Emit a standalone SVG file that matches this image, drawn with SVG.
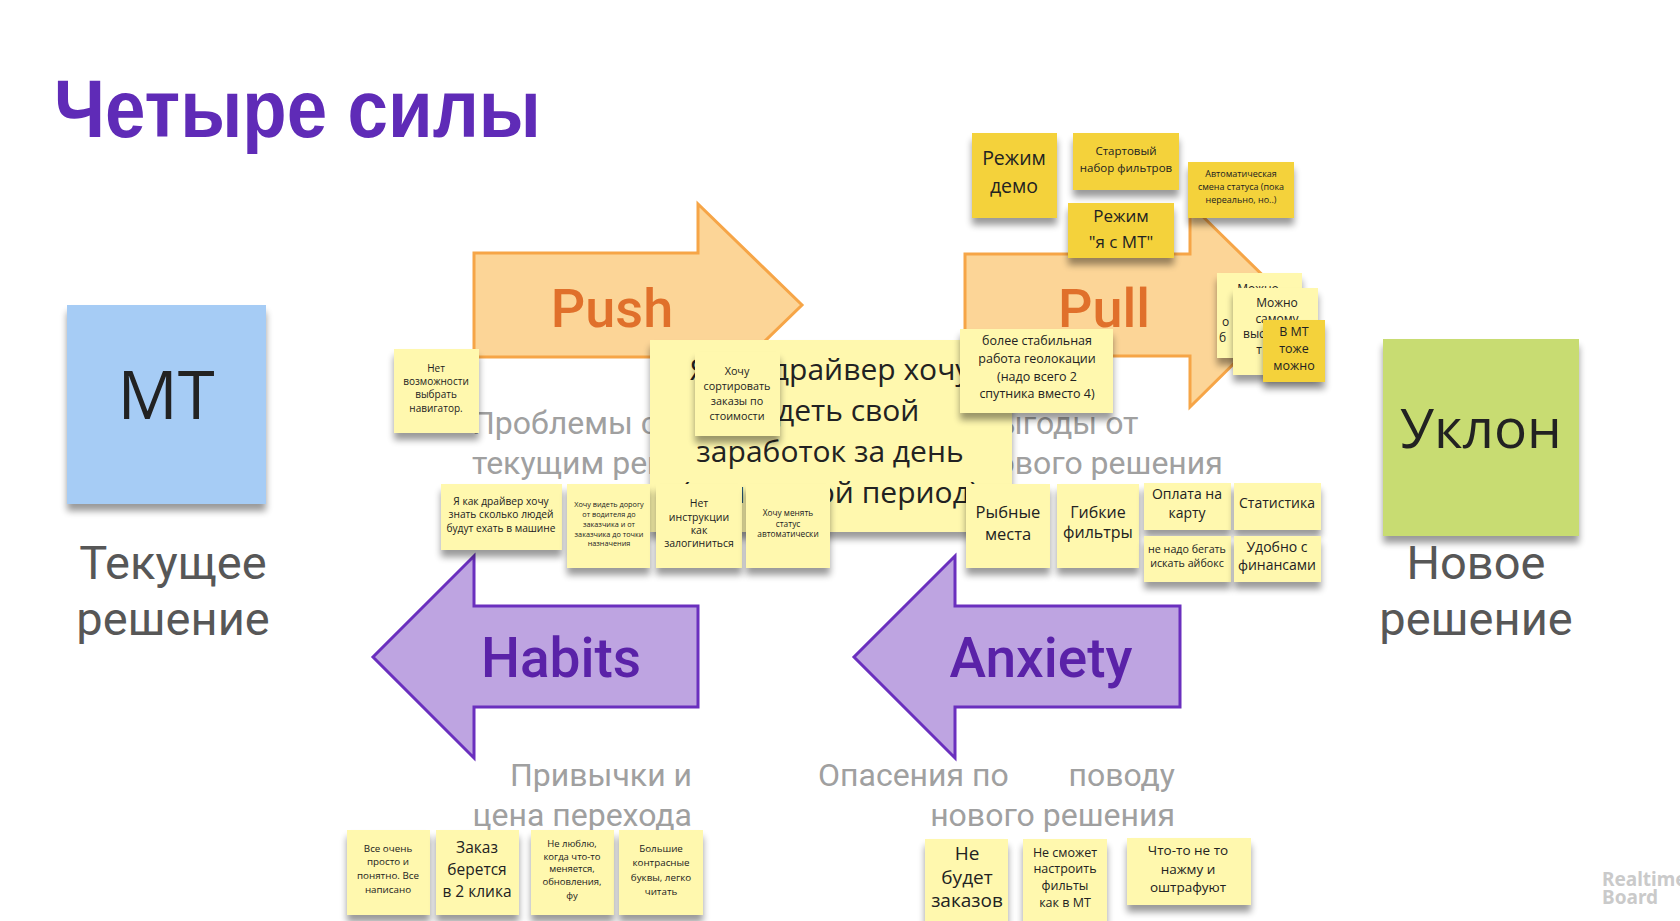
<svg xmlns="http://www.w3.org/2000/svg" width="1680" height="921" viewBox="0 0 1680 921">
<defs>
<filter id="sh" x="-15%" y="-15%" width="130%" height="145%">
<feGaussianBlur in="SourceAlpha" stdDeviation="3.5"/>
<feOffset dx="0" dy="7" result="o"/>
<feComponentTransfer in="o" result="s"><feFuncA type="linear" slope="0.4"/></feComponentTransfer>
<feMerge><feMergeNode in="s"/><feMergeNode in="SourceGraphic"/></feMerge>
</filter>
<style>
.p{fill:#fff8ae;filter:url(#sh)}
.d{fill:#f4d23a;filter:url(#sh)}
.t{font-family:"Open Sans","Noto Sans",sans-serif;fill:#222;text-anchor:middle}
.ts{font-family:"Open Sans","Noto Sans",sans-serif;fill:#222}
.g{font-family:Roboto,"Noto Sans",sans-serif;fill:#a0a0a0;font-size:32px}
.h{font-family:Roboto,"Noto Sans",sans-serif;fill:#575757;font-size:47px;text-anchor:middle}
.ao{fill:#fcd597;stroke:#f6a547;stroke-width:3;stroke-linejoin:miter}
.av{fill:#bea4e1;stroke:#6a2fbe;stroke-width:3;stroke-linejoin:miter}
.lo{font-family:Roboto,"Noto Sans",sans-serif;font-weight:500;font-size:54px;fill:#e0702b;text-anchor:middle}
.lv{font-family:Roboto,"Noto Sans",sans-serif;font-weight:500;font-size:55px;fill:#5a22a8;text-anchor:middle}
</style>
</defs>
<rect width="1680" height="921" fill="#ffffff"/>

<text id="title" x="54" y="137" font-family="'Liberation Sans',Arial,sans-serif" font-weight="700" font-size="82" fill="#5f2bb7" textLength="487" lengthAdjust="spacingAndGlyphs">Четыре силы</text>

<g id="connectors">
<polygon id="push" class="ao" points="474,253 698,253 698,204 802,305 698,406 698,357 474,357"/>
<polygon id="pull" class="ao" points="965,254 1190,254 1190,204 1293,305 1190,407 1190,356 965,356"/>
<polygon id="habits" class="av" points="698,606 474,606 474,556 373,657 474,758 474,707 698,707"/>
<polygon id="anxiety" class="av" points="1180,606 955,606 955,556 854,657 955,758 955,707 1180,707"/>
</g>
<text class="lo" x="612" y="327">Push</text>
<text class="lo" x="1104" y="327">Pull</text>
<text class="lv" x="561" y="677">Habits</text>
<text class="lv" x="1041" y="677">Anxiety</text>

<g id="mt">
<rect x="67" y="305" width="199" height="199" fill="#a6ccf5" filter="url(#sh)"/>
<text class="t" x="166" y="419" font-size="67" fill="#2a2a2a">МТ</text>
</g>
<text class="h"><tspan x="173" y="579">Текущее</tspan><tspan x="173" y="635">решение</tspan></text>

<g id="uklon">
<rect x="1383" y="339" width="196" height="197" fill="#c8dc72" filter="url(#sh)"/>
<text class="t" x="1481" y="448" font-size="55" fill="#2a2a2a">Уклон</text>
</g>
<text class="h"><tspan x="1476" y="579">Новое</tspan><tspan x="1476" y="635">решение</tspan></text>

<text class="g"><tspan x="472" y="434">Проблемы с</tspan><tspan x="472" y="474">текущим решением</tspan></text>
<text class="g" font-size="31"><tspan x="978" y="434">Выгоды от</tspan><tspan x="978" y="474">нового решения</tspan></text>
<text class="g" font-size="33" text-anchor="end"><tspan x="692" y="786">Привычки и</tspan><tspan x="692" y="826">цена перехода</tspan></text>
<text class="g" font-size="33" x="818" y="786">Опасения по</text>
<text class="g" font-size="33" text-anchor="end"><tspan x="1175" y="786">поводу</tspan><tspan x="1175" y="826">нового решения</tspan></text>

<g id="s-big">
<rect class="p" x="650" y="340" width="362" height="192"/>
<text class="t" font-size="30"><tspan x="830" y="380">Я как драйвер хочу</tspan><tspan x="830" y="421">видеть свой</tspan><tspan x="830" y="462">заработок за день</tspan><tspan x="830" y="503">(или другой период)</tspan></text>
</g>

<g id="s-nav">
<rect class="p" x="394" y="349" width="85" height="84"/>
<text class="t" font-size="10"><tspan x="436" y="372">Нет</tspan><tspan x="436" y="385">возможности</tspan><tspan x="436" y="398">выбрать</tspan><tspan x="436" y="412">навигатор.</tspan></text>
</g>
<g id="s-sort">
<rect class="p" x="695" y="352" width="85" height="84"/>
<text class="t" font-size="10.8"><tspan x="737" y="375">Хочу</tspan><tspan x="737" y="390">сортировать</tspan><tspan x="737" y="405">заказы по</tspan><tspan x="737" y="420">стоимости</tspan></text>
</g>
<g id="s-people">
<rect class="p" x="441" y="484" width="121" height="66"/>
<text class="t" font-size="10.2"><tspan x="501" y="505">Я как драйвер хочу</tspan><tspan x="501" y="518">знать сколько людей</tspan><tspan x="501" y="532">будут ехать в машине</tspan></text>
</g>
<g id="s-road">
<rect class="p" x="567" y="484" width="83" height="84"/>
<text class="t" font-size="7.3"><tspan x="609" y="507">Хочу видеть дорогу</tspan><tspan x="609" y="517">от водителя до</tspan><tspan x="609" y="527">заказчика и от</tspan><tspan x="609" y="537">заказчика до точки</tspan><tspan x="609" y="546">назначения</tspan></text>
</g>
<g id="s-login">
<rect class="p" x="656" y="484" width="86" height="84"/>
<text class="t" font-size="10.5"><tspan x="699" y="507">Нет</tspan><tspan x="699" y="521">инструкции</tspan><tspan x="699" y="534">как</tspan><tspan x="699" y="547">залогиниться</tspan></text>
</g>
<g id="s-status">
<rect class="p" x="746" y="484" width="84" height="84"/>
<text class="t" font-size="8.3"><tspan x="788" y="516">Хочу менять</tspan><tspan x="788" y="527">статус</tspan><tspan x="788" y="537">автоматически</tspan></text>
</g>

<g id="s-demo">
<rect class="d" x="972" y="133" width="85" height="85"/>
<text class="t" font-size="19.5"><tspan x="1014" y="165">Режим</tspan><tspan x="1014" y="193">демо</tspan></text>
</g>
<g id="s-start">
<rect class="d" x="1073" y="133" width="106" height="57"/>
<text class="t" font-size="11.5"><tspan x="1126" y="155">Стартовый</tspan><tspan x="1126" y="172">набор фильтров</tspan></text>
</g>
<g id="s-auto">
<rect class="d" x="1188" y="162" width="106" height="56"/>
<text class="t" font-size="9"><tspan x="1241" y="177">Автоматическая</tspan><tspan x="1241" y="190">смена статуса (пока</tspan><tspan x="1241" y="203">нереально, но..)</tspan></text>
</g>
<g id="s-withmt">
<rect class="d" x="1068" y="203" width="106" height="55"/>
<text class="t" font-size="17"><tspan x="1121" y="222">Режим</tspan><tspan x="1121" y="248">"я с МТ"</tspan></text>
</g>
<g id="s-geo">
<rect class="p" x="960" y="329" width="153" height="84"/>
<text class="t" font-size="12.5"><tspan x="1037" y="345">более стабильная</tspan><tspan x="1037" y="363">работа геолокации</tspan><tspan x="1037" y="381">(надо всего 2</tspan><tspan x="1037" y="398">спутника вместо 4)</tspan></text>
</g>
<g id="s-a">
<rect class="p" x="1217" y="273" width="85" height="85"/>
<text class="t" font-size="12" x="1258" y="293">Можно</text>
<text class="ts" font-size="12" x="1222" y="326">о</text>
<text class="ts" font-size="12" x="1219" y="342">б</text>
</g>
<g id="s-b">
<rect class="p" x="1233" y="288" width="85" height="87"/>
<text class="t" font-size="12"><tspan x="1277" y="307">Можно</tspan><tspan x="1277" y="323">самому</tspan></text>
<text class="ts" font-size="12" x="1243" y="338">выс</text>
<text class="ts" font-size="12" x="1262" y="354" text-anchor="end">т</text>
</g>
<g id="s-c">
<rect class="d" x="1263" y="320" width="62" height="62"/>
<text class="t" font-size="12.5"><tspan x="1294" y="336">В МТ</tspan><tspan x="1294" y="353">тоже</tspan><tspan x="1294" y="370">можно</tspan></text>
</g>

<g id="s-fish">
<rect class="p" x="966" y="484" width="84" height="84"/>
<text class="t" font-size="16.5"><tspan x="1008" y="518">Рыбные</tspan><tspan x="1008" y="540">места</tspan></text>
</g>
<g id="s-flex">
<rect class="p" x="1057" y="484" width="82" height="84"/>
<text class="t" font-size="16"><tspan x="1098" y="518">Гибкие</tspan><tspan x="1098" y="538">фильтры</tspan></text>
</g>
<g id="s-card">
<rect class="p" x="1144" y="483" width="87" height="47"/>
<text class="t" font-size="14"><tspan x="1187" y="499">Оплата на</tspan><tspan x="1187" y="518">карту</tspan></text>
</g>
<g id="s-stat">
<rect class="p" x="1234" y="483" width="87" height="47"/>
<text class="t" font-size="14" x="1277" y="508">Статистика</text>
</g>
<g id="s-ibox">
<rect class="p" x="1144" y="536" width="87" height="46"/>
<text class="t" font-size="10.7"><tspan x="1187" y="553">не надо бегать</tspan><tspan x="1187" y="567">искать айбокс</tspan></text>
</g>
<g id="s-fin">
<rect class="p" x="1234" y="536" width="87" height="46"/>
<text class="t" font-size="14"><tspan x="1277" y="552">Удобно с</tspan><tspan x="1277" y="570">финансами</tspan></text>
</g>

<g id="s-simple">
<rect class="p" x="347" y="830" width="83" height="85"/>
<text class="t" font-size="9.8"><tspan x="388" y="852">Все очень</tspan><tspan x="388" y="865">просто и</tspan><tspan x="388" y="879">понятно. Все</tspan><tspan x="388" y="893">написано</tspan></text>
</g>
<g id="s-2click">
<rect class="p" x="436" y="830" width="83" height="85"/>
<text class="t" font-size="15.5"><tspan x="477" y="853">Заказ</tspan><tspan x="477" y="875">берется</tspan><tspan x="477" y="897">в 2 клика</tspan></text>
</g>
<g id="s-change">
<rect class="p" x="531" y="830" width="83" height="85"/>
<text class="t" font-size="9.5"><tspan x="572" y="847">Не люблю,</tspan><tspan x="572" y="860">когда что-то</tspan><tspan x="572" y="872">меняется,</tspan><tspan x="572" y="885">обновления,</tspan><tspan x="572" y="899">фу</tspan></text>
</g>
<g id="s-letters">
<rect class="p" x="619" y="830" width="84" height="85"/>
<text class="t" font-size="9.8"><tspan x="661" y="852">Большие</tspan><tspan x="661" y="866">контрасные</tspan><tspan x="661" y="881">буквы, легко</tspan><tspan x="661" y="895">читать</tspan></text>
</g>

<g id="s-noorders">
<rect class="p" x="925" y="839" width="83" height="90"/>
<text class="t" font-size="19"><tspan x="967" y="860">Не</tspan><tspan x="967" y="884">будет</tspan><tspan x="967" y="907">заказов</tspan></text>
</g>
<g id="s-filters">
<rect class="p" x="1023" y="839" width="84" height="90"/>
<text class="t" font-size="12.5"><tspan x="1065" y="857">Не сможет</tspan><tspan x="1065" y="873">настроить</tspan><tspan x="1065" y="890">фильты</tspan><tspan x="1065" y="907">как в МТ</tspan></text>
</g>
<g id="s-fine">
<rect class="p" x="1127" y="838" width="124" height="67"/>
<text class="t" font-size="13.5"><tspan x="1188" y="855">Что-то не то</tspan><tspan x="1188" y="874">нажму и</tspan><tspan x="1188" y="892">оштрафуют</tspan></text>
</g>

<text font-family="'Noto Sans','Open Sans',sans-serif" font-weight="700" font-size="19" fill="#cacaca"><tspan x="1602" y="886">Realtime</tspan><tspan x="1602" y="904">Board</tspan></text>
</svg>
